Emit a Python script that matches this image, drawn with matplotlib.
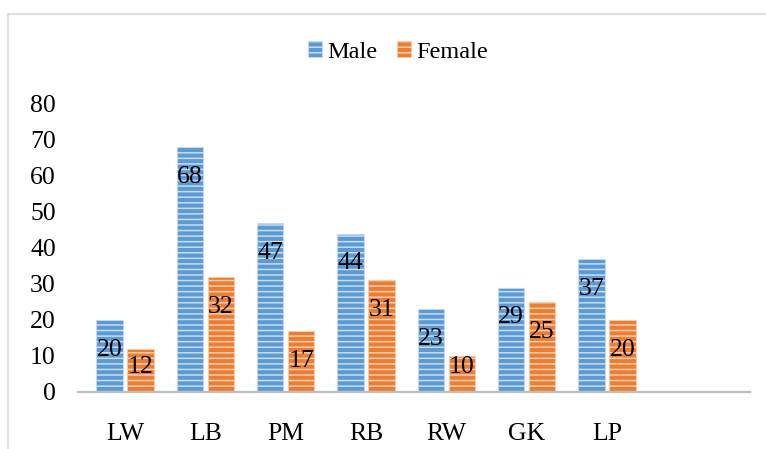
import matplotlib
matplotlib.use("Agg")
import matplotlib.pyplot as plt
import numpy as np
from matplotlib.lines import Line2D

categories = ["LW", "LB", "PM", "RB", "RW", "GK", "LP"]
male = [20, 68, 47, 44, 23, 29, 37]
female = [12, 32, 17, 31, 10, 25, 20]
yticks = [0, 10, 20, 30, 40, 50, 60, 70, 80]

plt.rcParams['font.family'] = ['Liberation Serif', 'DejaVu Serif']
plt.rcParams['hatch.linewidth'] = 1.1

fig = plt.figure(figsize=(7.66, 4.49), dpi=100)
ax = fig.add_axes([78/766, 1-392/449, 672/766, 288/449])

x = np.arange(len(categories))
w = 0.324
off = 0.193
blue = '#5b9bd5'
orange = '#ed7d31'
bm = ax.bar(x - off, male, w, color=blue, edgecolor='#c9dcf0', linewidth=0.6, hatch='---', label='Male', zorder=2)
bf = ax.bar(x + off, female, w, color=orange, edgecolor='#f8cdb0', linewidth=0.6, hatch='---', label='Female', zorder=2)

def lab(xs, vals):
    for xi, v in zip(xs, vals):
        yl = max(v - 8.3, 7.0)
        ax.text(xi, yl, str(v), ha='center', va='center', fontsize=18.5, color='black', zorder=3)

lab(x - off, male)
lab(x + off, female)

ax.set_xlim(-0.585, 7.78)
ax.set_ylim(0, 80)
ax.set_yticks(yticks)
ax.set_yticklabels([str(t) for t in yticks], fontsize=18.5)
ax.set_xticks(x)
ax.set_xticklabels(categories, fontsize=18.5)
ax.tick_params(axis='y', length=0, pad=16)
ax.tick_params(axis='x', length=0, pad=22)
for s in ['top', 'right', 'left']:
    ax.spines[s].set_visible(False)
ax.spines['bottom'].set_color('#bfbfbf')
ax.spines['bottom'].set_linewidth(1.6)

leg = fig.legend(handles=[bm, bf], labels=['Male', 'Female'], loc='center', bbox_to_anchor=(398/766, 1-52/449),
                 ncol=2, frameon=False, fontsize=17.5, handlelength=0.6, handleheight=0.6,
                 handletextpad=0.2, columnspacing=0.8, borderpad=0)

# figure frame
fig.add_artist(Line2D([7.5/766, 7.5/766], [0, 1-13.5/449], color='#d9d9d9', lw=1.2, transform=fig.transFigure))
fig.add_artist(Line2D([7.5/766, 1], [1-13.5/449, 1-13.5/449], color='#d9d9d9', lw=1.2, transform=fig.transFigure))

fig.savefig('out.png', dpi=100)
